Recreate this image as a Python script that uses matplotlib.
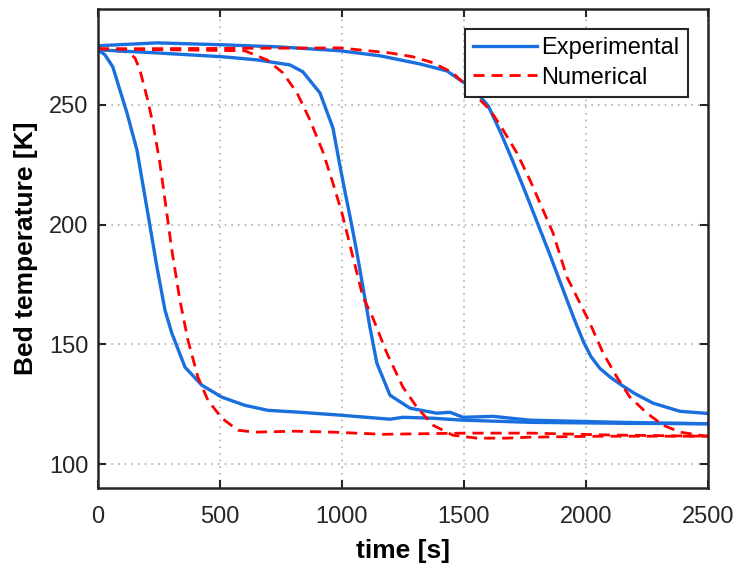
import numpy as np
import matplotlib
matplotlib.use("Agg")
from matplotlib import pyplot as plt

plt.rcParams['font.family'] = ['Liberation Sans', 'DejaVu Sans']

# experimental curves (time [s], temperature [K])
t_exp1 = [0, 29, 61, 119, 160, 193, 205, 242, 275, 303, 357, 426, 508, 602, 697, 828, 992, 1197, 1250, 1373, 1496, 1770, 2139, 2500]
T_exp1 = [273.0, 270.9, 265.9, 246.7, 231.2, 211.6, 204.5, 182.3, 164.3, 154.7, 140.5, 133.0, 128.0, 124.6, 122.5, 121.7, 120.5, 118.8, 119.6, 119.2, 118.4, 117.5, 117.1, 116.9]

t_exp2 = [0, 242, 512, 652, 787, 840, 910, 963, 992, 1012, 1033, 1061, 1086, 1115, 1143, 1197, 1279, 1389, 1443, 1496, 1619, 1770, 2139, 2500]
T_exp2 = [273.0, 271.7, 270.1, 268.8, 266.7, 263.8, 255.0, 240.4, 224.5, 214.0, 203.5, 188.5, 174.0, 157.0, 142.2, 128.8, 123.4, 121.3, 121.7, 119.6, 120.0, 118.4, 117.5, 116.9]

t_exp3 = [0, 242, 512, 746, 992, 1156, 1320, 1430, 1496, 1550, 1600, 1650, 1700, 1750, 1800, 1850, 1900, 1950, 1990, 2020, 2057, 2100, 2139, 2200, 2275, 2385, 2500]
T_exp3 = [274.7, 275.9, 275.1, 274.2, 272.6, 270.5, 267.1, 264.2, 259.6, 255.5, 249.5, 238.5, 226.5, 214.0, 201.0, 188.0, 174.5, 161.0, 151.0, 145.0, 140.0, 136.3, 133.5, 129.5, 125.5, 122.1, 121.2]

# numerical curves
t_num1 = [0, 123, 152, 172, 201, 225, 254, 275, 303, 336, 369, 410, 451, 508, 574, 643, 807, 963, 1168, 1373, 1512, 1770, 2100, 2500]
T_num1 = [273.4, 272.1, 269.6, 264.6, 253.3, 242.5, 225.8, 210.3, 189.4, 168.5, 151.8, 136.3, 126.7, 119.2, 114.2, 113.4, 113.8, 113.4, 112.5, 112.8, 113.0, 113.0, 112.2, 111.7]

t_num2 = [0, 602, 693, 758, 816, 869, 922, 963, 1000, 1045, 1086, 1127, 1184, 1250, 1307, 1373, 1455, 1553, 1676, 1770, 2057, 2500]
T_num2 = [273.4, 272.6, 268.8, 263.4, 255.0, 243.7, 230.4, 217.4, 204.9, 186.5, 169.8, 161.0, 146.4, 132.2, 123.8, 116.3, 112.1, 110.9, 110.9, 111.3, 111.7, 111.7]

t_num3 = [0, 992, 1197, 1291, 1373, 1455, 1525, 1607, 1660, 1717, 1770, 1824, 1865, 1922, 1975, 2016, 2070, 2127, 2180, 2250, 2316, 2385, 2467, 2500]
T_num3 = [273.4, 273.8, 271.7, 270.1, 267.6, 263.4, 256.3, 247.9, 239.6, 229.9, 218.7, 206.1, 196.5, 178.1, 167.3, 158.9, 146.4, 136.3, 128.0, 121.3, 116.3, 113.4, 112.1, 111.7]

blue = "#1a6fdf"
red = "#ff0000"
dash = (0, (4, 2.5))

fig = plt.figure(figsize=(7.36, 5.69), dpi=100)
ax = fig.add_axes([0.133, 0.142, 0.829, 0.842])

ax.plot(t_exp1, T_exp1, color=blue, linewidth=2.4, label="Experimental")
ax.plot(t_num1, T_num1, color=red, linewidth=2.0, linestyle=dash, label="Numerical")
ax.plot(t_exp2, T_exp2, color=blue, linewidth=2.4)
ax.plot(t_exp3, T_exp3, color=blue, linewidth=2.4)
ax.plot(t_num2, T_num2, color=red, linewidth=2.0, linestyle=dash)
ax.plot(t_num3, T_num3, color=red, linewidth=2.0, linestyle=dash)

ax.set_xlim(0, 2500)
ax.set_ylim(90, 290)
ax.set_xticks([0, 500, 1000, 1500, 2000, 2500])
ax.set_yticks([100, 150, 200, 250])
ax.grid(True, linestyle=(0, (1, 3)), color="#b0b0b0", linewidth=1.2)
ax.tick_params(direction="in", length=6, width=1.5, top=True, right=True,
               labelsize=17, colors="#262626")
ax.tick_params(axis="x", pad=13)
ax.tick_params(axis="y", pad=7)
for s in ax.spines.values():
    s.set_linewidth(1.8)
    s.set_color("#262626")

ax.set_xlabel("time [s]", fontsize=19, fontweight="bold", labelpad=8)
ax.set_ylabel("Bed temperature [K]", fontsize=19, fontweight="bold", labelpad=8)

leg = ax.legend(loc="upper right", fontsize=17, fancybox=False, framealpha=1,
                edgecolor="#262626", handlelength=2.7, borderaxespad=0.85,
                handletextpad=0.2, labelspacing=0.3, borderpad=0.35)
leg.get_frame().set_linewidth(1.5)

plt.savefig("out.png", dpi=100)
